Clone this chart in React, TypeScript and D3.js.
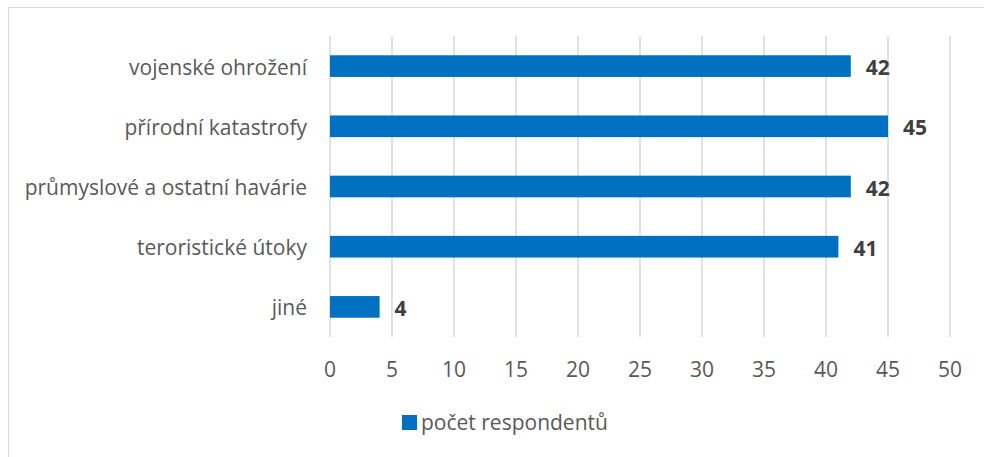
import React from "react";
import * as d3 from "d3";

const categories = [
  "vojenské ohrožení",
  "přírodní katastrofy",
  "průmyslové a ostatní havárie",
  "teroristické útoky",
  "jiné",
];
const values = [42, 45, 42, 41, 4];
const xTicks = [0, 5, 10, 15, 20, 25, 30, 35, 40, 45, 50];
const seriesName = "počet respondentů";

const W = 984;
const H = 457;
const FONT = "'Open Sans', sans-serif";
const FS = 21;

export default function App() {
  const x = d3.scaleLinear().domain([0, 50]).range([330, 950]);
  const y = d3
    .scaleBand<string>()
    .domain(categories)
    .range([36, 337])
    .paddingInner(0.64)
    .paddingOuter(0.32);

  return (
    <svg
      width={W}
      height={H}
      style={{ position: "absolute", left: 0, top: 0, background: "#fff" }}
    >
      <rect x={8.5} y={7.5} width={W + 10} height={H + 10} fill="#fff" stroke="#d9d9d9" strokeWidth={1} />
      {xTicks.map((t) => (
        <line
          key={"g" + t}
          x1={x(t)}
          x2={x(t)}
          y1={36}
          y2={337}
          stroke="#d9d9d9"
          strokeWidth={1.5}
        />
      ))}
      {categories.map((c, i) => (
        <g key={c}>
          <rect
            x={x(0)}
            y={y(c)!}
            width={x(values[i]) - x(0)}
            height={y.bandwidth()}
            fill="#0070c0"
          />
          <text
            x={307}
            y={y(c)! + y.bandwidth() / 2}
            dy="0.4em"
            textAnchor="end"
            fontFamily={FONT}
            fontSize={FS}
            fill="#595959"
          >
            {c}
          </text>
          <text
            x={x(values[i]) + 15}
            y={y(c)! + y.bandwidth() / 2}
            dy="0.43em"
            textAnchor="start"
            fontFamily={FONT}
            fontSize={FS}
            fontWeight="bold"
            fill="#404040"
          >
            {values[i]}
          </text>
        </g>
      ))}
      {xTicks.map((t) => (
        <text
          key={"t" + t}
          x={x(t)}
          y={377}
          textAnchor="middle"
          fontFamily={FONT}
          fontSize={FS}
          fill="#595959"
        >
          {t}
        </text>
      ))}
      <rect x={402} y={415} width={15} height={15} fill="#0070c0" />
      <text x={421} y={430} fontFamily={FONT} fontSize={FS} fill="#595959">
        {seriesName}
      </text>
    </svg>
  );
}
